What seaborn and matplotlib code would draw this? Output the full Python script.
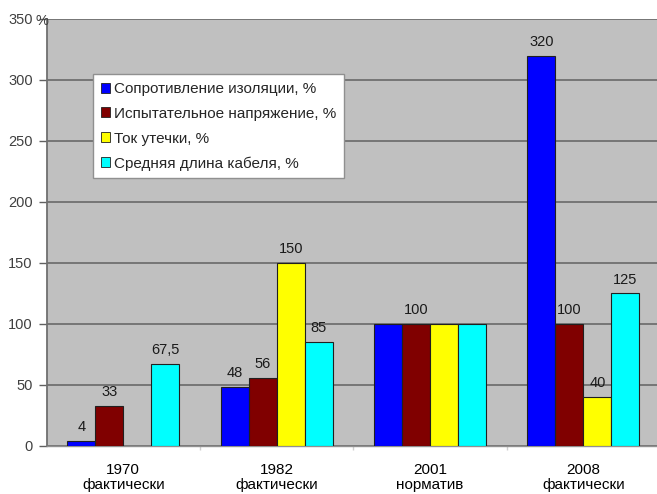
import numpy as np
import pandas as pd
import matplotlib
matplotlib.use("Agg")
import matplotlib.pyplot as plt
import seaborn as sns

# Chart data
years = ["1970\nфактически", "1982\nфактически", "2001\nнорматив", "2008\nфактически"]
series = ["Сопротивление изоляции, %", "Испытательное напряжение, %",
          "Ток утечки, %", "Средняя длина кабеля, %"]
insulation = [4, 48, 100, 320]
test_voltage = [33, 56, 100, 100]
leakage = [np.nan, 150, 100, 40]
cable_length = [67.5, 85, 100, 125]
# value labels shown above bars (None = no label)
labels_insulation = ["4", "48", None, "320"]
labels_voltage = ["33", "56", "100", "100"]
labels_leakage = [None, "150", None, "40"]
labels_length = ["67,5", "85", None, "125"]
yticks = [0, 50, 100, 150, 200, 250, 300, 350]
ytick_labels = ["0", "50", "100", "150", "200", "250", "300", "350"]

colors = ["#0000ff", "#800000", "#ffff00", "#00ffff"]

df = pd.DataFrame({
    "year": years * 4,
    "series": sum([[s] * 4 for s in series], []),
    "value": insulation + test_voltage + leakage + cable_length,
})

sns.set_theme(style="white")
plt.rcParams["font.family"] = ["Liberation Sans", "DejaVu Sans"]

fig = plt.figure(figsize=(6.57, 4.94), dpi=100)
ax = fig.add_axes([0.0708, 0.0972, 0.934, 0.8644])
ax.set_facecolor("#c0c0c0")

sns.barplot(data=df, x="year", y="value", hue="series", hue_order=series,
            order=years, palette=colors, saturation=1, width=0.73,
            edgecolor="#202020", linewidth=0.8, ax=ax, legend=True, zorder=3)

all_labels = [labels_insulation, labels_voltage, labels_leakage, labels_length]
all_values = [insulation, test_voltage, leakage, cable_length]
for cont, labs, vals in zip(ax.containers, all_labels, all_values):
    for patch in cont:
        if patch is None:
            continue
        xc = patch.get_x() + patch.get_width() / 2
        idx = int(round(xc))
        if labs[idx] is None or np.isnan(vals[idx]):
            continue
        ax.annotate(labs[idx], (xc, vals[idx]), xytext=(0, 5),
                    textcoords="offset points", ha="center", va="bottom",
                    fontsize=10.5, color="#1a1a1a", zorder=4)

ax.set_ylim(0, 350)
ax.set_xlim(-0.5, 3.5)
ax.set_yticks(yticks)
ax.set_yticklabels(ytick_labels, fontsize=10.5, color="#404040")
ax.annotate("%", (0, 350), xycoords=("axes fraction", "data"),
            xytext=(1.5, -1.5), textcoords="offset points", ha="right",
            va="center", fontsize=10.5, color="#404040")
ax.tick_params(axis="y", direction="out", length=6, width=1, color="#606060",
               left=True, pad=4)
ax.tick_params(axis="x", length=0, labelsize=11, pad=12, colors="#000000")
for lab in ax.get_xticklabels():
    lab.set_linespacing(1.15)
ax.set_xticks(range(4))
ax.set_xticks([0.5, 1.5, 2.5], minor=True)
ax.tick_params(axis="x", which="minor", direction="out", length=3,
               color="#d0d0d0", bottom=True)
ax.set_xlabel("")
ax.set_ylabel("")

ax.yaxis.grid(True, color="#707070", linewidth=1.3, zorder=1)
ax.set_axisbelow(True)
for side in ["top", "right"]:
    ax.spines[side].set_visible(False)
ax.spines["left"].set_color("#707070")
ax.spines["left"].set_linewidth(1.3)
ax.spines["bottom"].set_color("#909090")
ax.spines["bottom"].set_linewidth(1.0)

leg = ax.legend(loc="upper left", bbox_to_anchor=(0.076, 0.87), fontsize=11,
                frameon=True, fancybox=False, edgecolor="#909090",
                framealpha=1, facecolor="white", handlelength=0.62,
                handleheight=0.62, handletextpad=0.25, labelspacing=0.7,
                borderpad=0.5, borderaxespad=0)
for h in leg.get_patches():
    h.set_edgecolor("#202020")
    h.set_linewidth(0.6)

fig.savefig("out.png", dpi=100, facecolor="white")
